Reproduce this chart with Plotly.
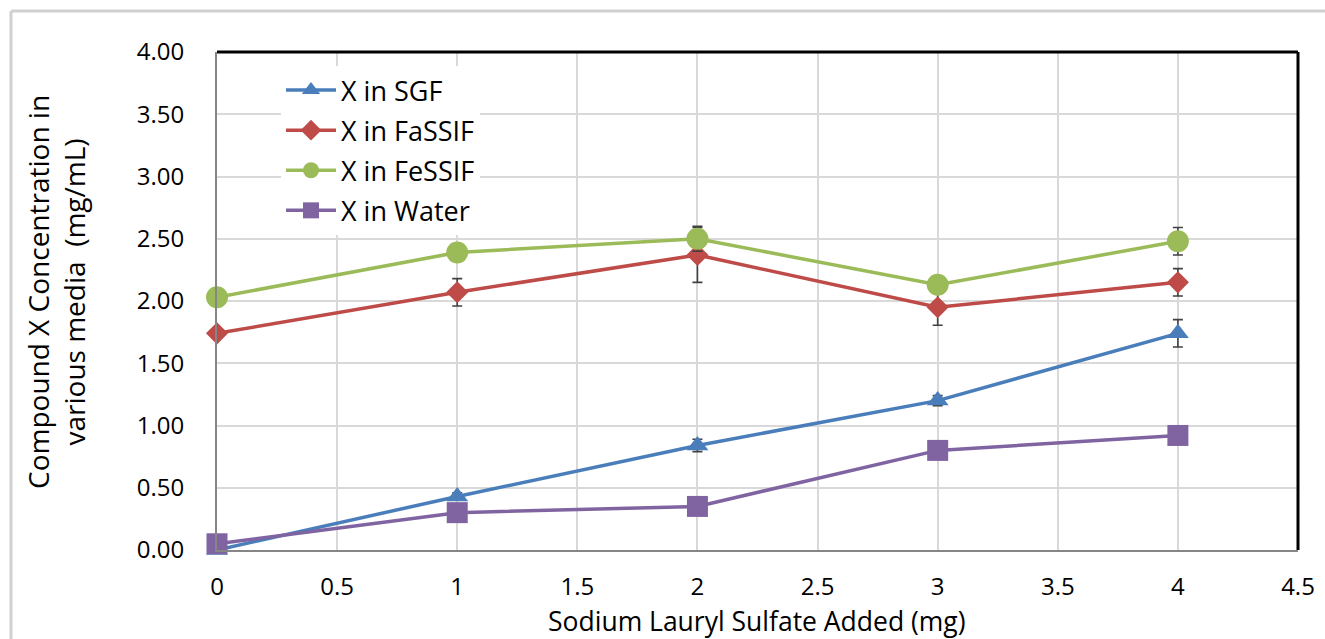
import plotly.graph_objects as go

# Sodium lauryl sulfate added (mg)
sls_mg = [0, 1, 2, 3, 4]

# Compound X concentration (mg/mL) in each medium, with error bar half-widths
sgf = [0.00, 0.43, 0.84, 1.20, 1.74]
sgf_err = [0.00, 0.03, 0.05, 0.04, 0.11]

fassif = [1.74, 2.07, 2.37, 1.95, 2.15]
fassif_err = [0.00, 0.11, 0.22, 0.145, 0.11]

fessif = [2.03, 2.39, 2.50, 2.13, 2.48]
fessif_err = [0.00, 0.03, 0.10, 0.03, 0.11]

water = [0.05, 0.30, 0.35, 0.80, 0.92]
water_err = [0.00, 0.02, 0.02, 0.03, 0.03]

x_ticks = [0, 0.5, 1, 1.5, 2, 2.5, 3, 3.5, 4, 4.5]
x_tick_text = ["0", "0.5", "1", "1.5", "2", "2.5", "3", "3.5", "4", "4.5"]
y_ticks = [0, 0.5, 1, 1.5, 2, 2.5, 3, 3.5, 4]
y_tick_text = ["0.00", "0.50", "1.00", "1.50", "2.00", "2.50", "3.00", "3.50", "4.00"]

FONT = "Open Sans"
ERR_COLOR = "#404040"

series = [
    ("X in SGF", sgf, sgf_err, "#4A7EBB", "triangle-up", 19),
    ("X in FaSSIF", fassif, fassif_err, "#BE4B48", "diamond", 17),
    ("X in FeSSIF", fessif, fessif_err, "#9BBB59", "circle", 22),
    ("X in Water", water, water_err, "#8064A2", "square", 21),
]

fig = go.Figure()
for name, ys, errs, color, symbol, size in series:
    fig.add_trace(go.Scatter(
        x=sls_mg, y=ys, name=name, legendgroup=name,
        mode="lines+markers",
        line=dict(color=color, width=3.5),
        marker=dict(color=color, symbol=symbol, size=size, line=dict(width=0)),
        error_y=dict(type="data", array=errs, visible=True,
                     color=ERR_COLOR, thickness=1.6, width=5),
        cliponaxis=False,
    ))

L, R, T, B = 217, 27, 52, 89
W, H = 1325, 639
pw, ph = W - L - R, H - T - B


def px_x(px):
    return (px - L) / pw


def px_y(py):
    return (H - B - py) / ph


shapes = [
    # outer chart frame (left and top edges)
    dict(type="line", xref="paper", yref="paper",
         x0=px_x(11), x1=px_x(11), y0=px_y(11), y1=px_y(700),
         line=dict(color="#d0d0d0", width=3)),
    dict(type="line", xref="paper", yref="paper",
         x0=px_x(11), x1=px_x(1400), y0=px_y(11), y1=px_y(11),
         line=dict(color="#d0d0d0", width=3)),
    # plot area top and right edges
    dict(type="line", xref="paper", yref="paper",
         x0=0, x1=1, y0=1, y1=1, line=dict(color="#000000", width=3)),
    dict(type="line", xref="paper", yref="paper",
         x0=1, x1=1, y0=0, y1=1, line=dict(color="#000000", width=3)),
]

fig.update_layout(
    width=W, height=H,
    margin=dict(l=L, r=R, t=T, b=B),
    paper_bgcolor="white", plot_bgcolor="white",
    font=dict(family=FONT, size=24, color="#000000"),
    showlegend=True,
    legend=dict(
        x=px_x(281), y=px_y(66), xanchor="left", yanchor="top",
        bgcolor="white", borderwidth=0,
        font=dict(family=FONT, size=27, color="#000000"),
        traceorder="grouped", tracegroupgap=2,
        itemwidth=50,
    ),
    xaxis=dict(
        range=[0, 4.5], tickvals=x_ticks, ticktext=x_tick_text,
        showgrid=True, gridcolor="#d9d9d9", gridwidth=2,
        showline=True, linecolor="#868686", linewidth=2,
        zeroline=False, ticks="", ticklabelstandoff=14,
        tickfont=dict(family=FONT, size=24), automargin=False,
    ),
    yaxis=dict(
        range=[0, 4], tickvals=y_ticks, ticktext=y_tick_text,
        showgrid=True, gridcolor="#d9d9d9", gridwidth=2,
        showline=True, linecolor="#868686", linewidth=2,
        zeroline=False, ticks="", ticklabelstandoff=26,
        tickfont=dict(family=FONT, size=24), automargin=False,
    ),
    shapes=shapes,
    annotations=[
        dict(text="Compound X Concentration in<br>various media  (mg/mL)",
             xref="paper", yref="paper", x=px_x(56), y=px_y(292),
             xanchor="center", yanchor="middle", textangle=-90,
             showarrow=False, font=dict(family=FONT, size=28)),
        dict(text="Sodium Lauryl Sulfate Added (mg)",
             xref="paper", yref="paper", x=px_x(757), y=px_y(621),
             xanchor="center", yanchor="middle",
             showarrow=False, font=dict(family=FONT, size=26.5)),
    ],
)

fig.write_html("out.html")
